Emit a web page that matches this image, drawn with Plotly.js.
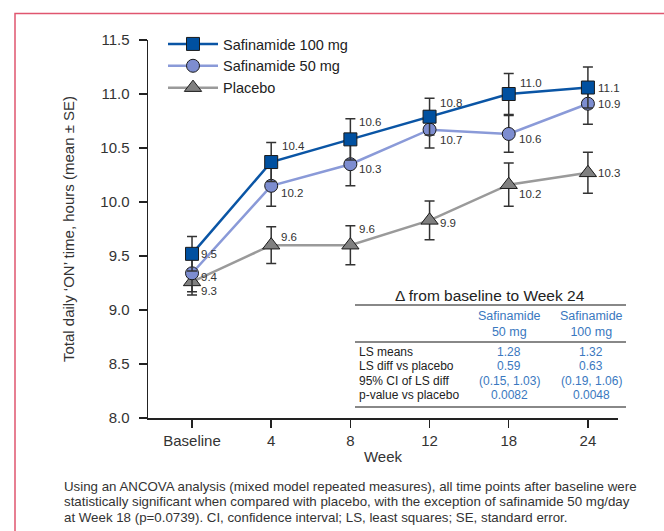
<!DOCTYPE html>
<html>
<head>
<meta charset="utf-8">
<script src="https://cdn.plot.ly/plotly-3.0.1.min.js"></script>
<style>html,body{margin:0;padding:0;background:#fff;}#chart{width:664px;height:531px;}</style>
</head>
<body>
<div id="chart"></div>
<script>
// ---- data ----
const weeks = ['Baseline', '4', '8', '12', '18', '24'];
const saf100 = [9.52, 10.37, 10.58, 10.79, 11.00, 11.06];
const saf100SE = [0.16, 0.18, 0.19, 0.17, 0.19, 0.19];
const saf100Labels = ['9.5', '10.4', '10.6', '10.8', '11.0', '11.1'];
const saf50 = [9.34, 10.15, 10.35, 10.67, 10.63, 10.91];
const saf50SE = [0.17, 0.19, 0.20, 0.17, 0.17, 0.19];
const saf50Labels = ['9.4', '10.2', '10.3', '10.7', '10.6', '10.9'];
const placebo = [9.26, 9.60, 9.60, 9.83, 10.16, 10.27];
const placeboSE = [0.12, 0.17, 0.18, 0.18, 0.20, 0.19];
const placeboLabels = ['9.3', '9.6', '9.6', '9.9', '10.2', '10.3'];
const yTicks = [8.0, 8.5, 9.0, 9.5, 10.0, 10.5, 11.0, 11.5];

const tableTitle = 'Δ from baseline to Week 24';
const tableCols = ['Safinamide<br>50 mg', 'Safinamide<br>100 mg'];
const tableRows = ['LS means', 'LS diff vs placebo', '95% CI of LS diff', 'p-value vs placebo'];
const table50 = ['1.28', '0.59', '(0.15, 1.03)', '0.0082'];
const table100 = ['1.32', '0.63', '(0.19, 1.06)', '0.0048'];
const captionLines = [
  'Using an ANCOVA analysis (mixed model repeated measures), all time points after baseline were',
  'statistically significant when compared with placebo, with the exception of safinamide 50 mg/day',
  'at Week 18 (p=0.0739). CI, confidence interval; LS, least squares; SE, standard error.'
];

// ---- label offsets (pixels) ----
const off100 = [[7, 0], [9, 16], [7, 17], [8, 14], [9, 11], [8, 0]];
const off50 = [[7, -4], [8, -7], [7, -5], [8, -10], [8, -5], [8, 0]];
const offPla = [[7, -9], [8, 8], [7, 16], [8, -3], [8, -9], [8, 0]];

// ---- geometry helpers ----
const L = 148, R = 618, T = 40, B = 418, W = 664, H = 531;
const px = x => (x - L) / (R - L);
const py = y => (B - y) / (B - T);

const FONT = 'Liberation Sans, Arial, Helvetica, sans-serif';
const TXT = '#333333';
const BLUE_TXT = '#3a78c0';

const idx = weeks.map((w, i) => i);

function trace(name, y, se, lineColor, fill, symbol, size) {
  return {
    type: 'scatter', mode: 'lines+markers', name: name,
    x: idx, y: y,
    line: {color: lineColor, width: 2.5},
    marker: {symbol: symbol, size: size, color: fill, line: {color: '#1a1a1a', width: 1}},
    error_y: {type: 'data', array: se, visible: true, color: '#333333', thickness: 1.5, width: 5},
    cliponaxis: false
  };
}

const data = [
  trace('Placebo', placebo, placeboSE, '#9a9a9a', '#808080', 'triangle-up', 15),
  trace('Safinamide 50 mg', saf50, saf50SE, '#8a9ad8', '#7d8dd0', 'circle', 13),
  trace('Safinamide 100 mg', saf100, saf100SE, '#0a55a5', '#0050a0', 'square', 13)
];

const annotations = [];
function addLabels(vals, labels, offs) {
  vals.forEach((v, i) => {
    annotations.push({
      x: i, y: v, xref: 'x', yref: 'y', text: labels[i], showarrow: false,
      xanchor: 'left', yanchor: 'middle', xshift: offs[i][0], yshift: offs[i][1],
      font: {family: FONT, size: 11.5, color: TXT}
    });
  });
}
addLabels(saf100, saf100Labels, off100);
addLabels(saf50, saf50Labels, off50);
addLabels(placebo, placeboLabels, offPla);

// table
annotations.push({x: px(490), y: py(295), xref: 'paper', yref: 'paper', text: tableTitle, showarrow: false,
  xanchor: 'center', yanchor: 'middle', font: {family: FONT, size: 15.5, color: '#222'}});
const colX = [509, 591];
tableCols.forEach((c, j) => annotations.push({x: px(colX[j]), y: py(324), xref: 'paper', yref: 'paper', text: c,
  showarrow: false, xanchor: 'center', yanchor: 'middle', align: 'center',
  font: {family: FONT, size: 12.5, color: BLUE_TXT}}));
const rowY = [352, 366, 381, 395];
tableRows.forEach((r, i) => {
  annotations.push({x: px(357), y: py(rowY[i]), xref: 'paper', yref: 'paper', text: r, showarrow: false,
    xanchor: 'left', yanchor: 'middle', font: {family: FONT, size: 12, color: '#222'}});
  annotations.push({x: px(colX[0]), y: py(rowY[i]), xref: 'paper', yref: 'paper', text: table50[i], showarrow: false,
    xanchor: 'center', yanchor: 'middle', font: {family: FONT, size: 12, color: BLUE_TXT}});
  annotations.push({x: px(colX[1]), y: py(rowY[i]), xref: 'paper', yref: 'paper', text: table100[i], showarrow: false,
    xanchor: 'center', yanchor: 'middle', font: {family: FONT, size: 12, color: BLUE_TXT}});
});
// caption
const capY = [486, 501.5, 517];
captionLines.forEach((t, i) => annotations.push({x: px(62), y: py(capY[i]), xref: 'paper', yref: 'paper', text: t,
  showarrow: false, xanchor: 'left', yanchor: 'middle', align: 'left',
  font: {family: FONT, size: 13.3, color: '#333'}}));

const shapes = [
  {type: 'line', xref: 'paper', yref: 'paper', x0: px(355), x1: px(626), y0: py(305), y1: py(305), line: {color: '#888', width: 2}},
  {type: 'line', xref: 'paper', yref: 'paper', x0: px(355), x1: px(626), y0: py(342), y1: py(342), line: {color: '#888', width: 2}},
  {type: 'line', xref: 'paper', yref: 'paper', x0: px(355), x1: px(626), y0: py(407), y1: py(407), line: {color: '#888', width: 2}},
  {type: 'path', xref: 'paper', yref: 'paper',
   path: `M ${px(15)} ${py(535)} L ${px(15)} ${py(13.5)} L ${px(668)} ${py(13.5)}`,
   line: {color: '#e0566f', width: 1.5}}
];

const layout = {
  width: W, height: H,
  margin: {l: L, r: W - R, t: T, b: H - B, pad: 0},
  paper_bgcolor: '#ffffff', plot_bgcolor: '#ffffff',
  font: {family: FONT, color: TXT, size: 14},
  showlegend: true,
  legend: {x: px(163), y: py(28), xanchor: 'left', yanchor: 'top', bgcolor: 'rgba(0,0,0,0)',
    traceorder: 'reversed', itemwidth: 50, font: {family: FONT, size: 14.5, color: '#222'}, tracegroupgap: 0},
  xaxis: {
    range: [-0.556, 5.38], tickvals: idx, ticktext: weeks, showgrid: false, zeroline: false,
    showline: true, linecolor: '#222', linewidth: 1.5, ticks: 'outside', ticklen: 8, tickwidth: 1.5, tickcolor: '#222',
    tickfont: {family: FONT, size: 15, color: TXT}, automargin: false,
    title: {text: 'Week', font: {family: FONT, size: 15, color: TXT}, standoff: 4}
  },
  yaxis: {
    range: [8.0, 11.5], tickvals: yTicks, tickformat: '.1f', showgrid: false, zeroline: false,
    showline: true, linecolor: '#222', linewidth: 1.5, ticks: 'outside', ticklen: 8, tickwidth: 1.5, tickcolor: '#222',
    tickfont: {family: FONT, size: 15, color: TXT}, automargin: false, ticklabelstandoff: 6,
    title: {text: 'Total daily ‘ON’ time, hours (mean ± SE)', font: {family: FONT, size: 15, color: TXT}, standoff: 22}
  },
  annotations: annotations,
  shapes: shapes
};

Plotly.newPlot('chart', data, layout, {displayModeBar: false, staticPlot: true});
</script>
</body>
</html>
